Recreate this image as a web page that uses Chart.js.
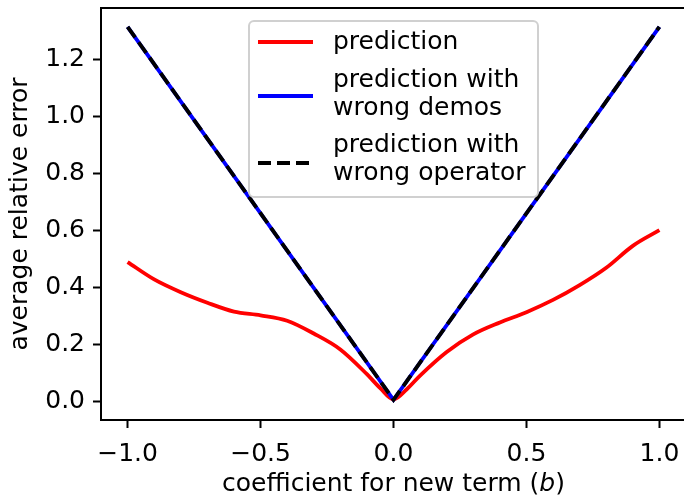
<!DOCTYPE html>
<html>
<head>
<meta charset="utf-8">
<script src="https://cdn.jsdelivr.net/npm/chart.js@4.4.0/dist/chart.umd.min.js"></script>
<style>
  html, body { margin: 0; padding: 0; background: #fff; overflow: hidden; }
  #wrap { width: 688px; height: 495px; }
</style>
</head>
<body>
<div id="wrap"><canvas id="errChart" width="688" height="495"></canvas></div>
<script>
// red curve
const predX = [-1.0, -0.9, -0.8, -0.7, -0.6, -0.5, -0.4, -0.3, -0.2, -0.1, -0.05, 0.0,
               0.05, 0.1, 0.2, 0.3, 0.4, 0.5, 0.6, 0.7, 0.8, 0.9, 1.0];
const predY = [0.489, 0.428, 0.383, 0.346, 0.315, 0.302, 0.283, 0.238, 0.182, 0.095, 0.046, 0.006,
               0.042, 0.090, 0.173, 0.235, 0.277, 0.313, 0.356, 0.408, 0.469, 0.546, 0.601];

// the two baselines lie on top of each other
const wrongX = [-1.0, 0.0, 1.0];
const wrongDemosY = [1.316, 0.005, 1.316];
const wrongOpY = [1.316, 0.005, 1.316];

const xTicks = [-1.0, -0.5, 0.0, 0.5, 1.0];
const yTicks = [0.0, 0.2, 0.4, 0.6, 0.8, 1.0, 1.2];

const seriesLabels = ['prediction', 'prediction with\nwrong demos', 'prediction with\nwrong operator'];
const xTitle = ['coefficient for new term (', 'b', ')'];

const FONT = 'DejaVu Sans';
const FS = 25;

function pts(xs, ys) {
    return xs.map((x, i) => ({ x: x, y: ys[i] }));
}

function fmt(v) {
    const s = Math.abs(v).toFixed(1);
    return v < -1e-9 ? '\u2212' + s : s;
}

// top spine + x label with italic b + legend with two-line entries
const extras = {
    id: 'extras',
    afterDraw(chart) {
        const ctx = chart.ctx;
        const a = chart.chartArea;
        ctx.save();
        ctx.strokeStyle = '#000';
        ctx.lineWidth = 2;
        ctx.beginPath();
        ctx.moveTo(a.left - 1, a.top);
        ctx.lineTo(a.right, a.top);
        ctx.lineTo(a.right, a.bottom);
        ctx.stroke();

        // x title
        ctx.fillStyle = '#000';
        ctx.textBaseline = 'alphabetic';
        ctx.textAlign = 'left';
        const fonts = [FS + 'px "' + FONT + '"', 'italic ' + FS + 'px "' + FONT + '"', FS + 'px "' + FONT + '"'];
        let total = 0;
        xTitle.forEach((t, i) => { ctx.font = fonts[i]; total += ctx.measureText(t).width; });
        let tx = (a.left + a.right) / 2 - total / 2;
        xTitle.forEach((t, i) => {
            ctx.font = fonts[i];
            ctx.fillText(t, tx, 491);
            tx += ctx.measureText(t).width;
        });

        // legend
        const x0 = 249, y0 = 21, w = 289, h = 176, r = 5;
        ctx.beginPath();
        ctx.moveTo(x0 + r, y0);
        ctx.arcTo(x0 + w, y0, x0 + w, y0 + h, r);
        ctx.arcTo(x0 + w, y0 + h, x0, y0 + h, r);
        ctx.arcTo(x0, y0 + h, x0, y0, r);
        ctx.arcTo(x0, y0, x0 + w, y0, r);
        ctx.closePath();
        ctx.fillStyle = 'rgba(255,255,255,0.8)';
        ctx.fill();
        ctx.strokeStyle = '#d0d0d0';
        ctx.lineWidth = 2;
        ctx.stroke();

        const handleY = [42, 96, 163];
        const textY = [[42], [80, 108], [145, 173]];
        chart.data.datasets.forEach((ds, i) => {
            ctx.beginPath();
            ctx.setLineDash(ds.borderDash || []);
            ctx.strokeStyle = ds.borderColor;
            ctx.lineWidth = ds.borderWidth;
            ctx.moveTo(258, handleY[i]);
            ctx.lineTo(313, handleY[i]);
            ctx.stroke();
            ctx.setLineDash([]);
            ctx.fillStyle = '#000';
            ctx.font = FS + 'px "' + FONT + '"';
            ctx.textBaseline = 'middle';
            ctx.textAlign = 'left';
            ds.label.split('\n').forEach((line, j) => {
                ctx.fillText(line, 333, textY[i][j]);
            });
        });
        ctx.restore();
    }
};

const whiteBg = {
    id: 'whiteBg',
    beforeDraw(chart) {
        const ctx = chart.ctx;
        ctx.save();
        ctx.fillStyle = '#fff';
        ctx.fillRect(0, 0, chart.width, chart.height);
        ctx.restore();
    }
};

new Chart(document.getElementById('errChart'), {
    type: 'line',
    data: {
        datasets: [
            {
                label: seriesLabels[0],
                data: pts(predX, predY),
                borderColor: '#ff0000',
                borderWidth: 3.8,
                pointRadius: 0,
                cubicInterpolationMode: 'monotone',
                order: 2
            },
            {
                label: seriesLabels[1],
                data: pts(wrongX, wrongDemosY),
                borderColor: '#0000ff',
                borderWidth: 3.8,
                pointRadius: 0,
                tension: 0,
                order: 1
            },
            {
                label: seriesLabels[2],
                data: pts(wrongX, wrongOpY),
                borderColor: '#000000',
                borderWidth: 3.8,
                borderDash: [13, 6],
                pointRadius: 0,
                tension: 0,
                order: 0
            }
        ]
    },
    options: {
        responsive: false,
        animation: false,
        events: [],
        layout: { padding: { left: 0, right: 2, top: 8, bottom: 0 } },
        plugins: {
            legend: { display: false },
            tooltip: { enabled: false }
        },
        scales: {
            x: {
                type: 'linear',
                min: -1.1,
                max: 1.1,
                afterBuildTicks: (s) => { s.ticks = xTicks.map(v => ({ value: v })); },
                afterFit: (s) => { s.height = 75; s.paddingLeft = 0; s.paddingRight = 0; },
                grid: { drawOnChartArea: false, tickLength: 8, tickWidth: 2, tickColor: '#000' },
                border: { display: true, color: '#000', width: 2 },
                ticks: {
                    color: '#000',
                    padding: 11,
                    font: { family: FONT, size: FS },
                    maxRotation: 0,
                    callback: (v) => fmt(v)
                }
            },
            y: {
                type: 'linear',
                min: -0.066,
                max: 1.382,
                afterBuildTicks: (s) => { s.ticks = yTicks.map(v => ({ value: v })); },
                afterFit: (s) => { s.width = 101; s.paddingTop = 0; s.paddingBottom = 0; },
                grid: { drawOnChartArea: false, tickLength: 8, tickWidth: 2, tickColor: '#000' },
                border: { display: true, color: '#000', width: 2 },
                ticks: {
                    color: '#000',
                    padding: 8,
                    font: { family: FONT, size: FS },
                    callback: (v) => fmt(v)
                },
                title: {
                    display: true,
                    text: 'average relative error',
                    color: '#000',
                    font: { family: FONT, size: FS },
                    padding: { top: 5, bottom: 0 }
                }
            }
        }
    },
    plugins: [whiteBg, extras]
});
</script>
</body>
</html>
